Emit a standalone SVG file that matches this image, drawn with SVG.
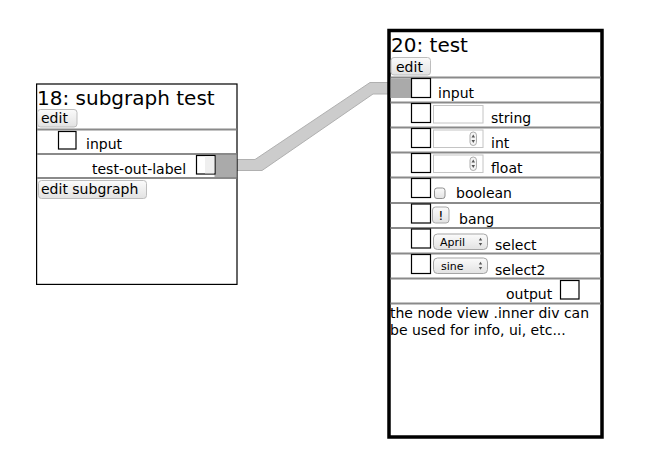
<svg xmlns="http://www.w3.org/2000/svg" width="648" height="468" viewBox="0 0 648 468">
  <defs>
    <linearGradient id="btnGrad" x1="0" y1="0" x2="0" y2="1">
      <stop offset="0" stop-color="#fbfbfb"/>
      <stop offset="1" stop-color="#e2e2e2"/>
    </linearGradient>
    <style>
      text { font-family: "DejaVu Sans", Verdana, sans-serif; fill: #000; }
      .title { font-size: 20px; }
      .lbl { font-size: 14px; }
      .btntxt { font-size: 14px; }
      .small { font-size: 11px; }
      .node18 { fill: #fff; stroke: #000; stroke-width: 1.2; }
      .node20 { fill: #fff; stroke: #000; stroke-width: 3.5; }
      .rowline { stroke: #8a8a8a; stroke-width: 2; }
      .port { fill: #fff; stroke: #000; stroke-width: 1.2; }
      .portActive { fill: #aaa; }
      .btn { fill: url(#btnGrad); stroke: #bdbdbd; stroke-width: 1; }
      .field { fill: #fff; stroke: #c4c4c4; stroke-width: 1; }
      .spin { fill: #f4f4f4; stroke: #9a9a9a; stroke-width: 0.8; }
      .arrow { fill: #555; }
      .wire { fill: #cccccc; stroke: #b0b0b0; stroke-width: 1; }
    </style>
  </defs>

  <rect x="0" y="0" width="648" height="468" fill="#fff"/>

  <g id="connectors">
    <polygon class="wire" points="237,159.5 255,159.5 370,82.5 389,82.5 389,94 373,94 262,170.5 237,170.5"/>
  </g>

  <g id="node-18">
    <rect class="node18" x="36.6" y="84" width="200.4" height="200.4"/>
    <text class="title" x="37" y="105">18: subgraph test</text>
    <rect class="btn" x="37.5" y="109.5" width="39.5" height="17.5" rx="3"/>
    <text class="btntxt" x="41" y="123">edit</text>
    <line class="rowline" x1="37" y1="129.5" x2="236.5" y2="129.5"/>
    <line class="rowline" x1="37" y1="154" x2="236.5" y2="154"/>
    <line class="rowline" x1="37" y1="178" x2="236.5" y2="178"/>
    <g id="node-18-input">
      <rect class="port" x="58.5" y="131.5" width="17.5" height="17.5"/>
      <text class="lbl" x="86" y="149">input</text>
    </g>
    <g id="node-18-output">
      <rect class="portActive" x="214.5" y="155" width="22" height="22"/>
      <rect class="port" x="196.5" y="155.5" width="18.5" height="18.5"/>
      <rect x="205" y="156.2" width="9.4" height="17.2" fill="#efefef"/>
      <text class="lbl" x="92" y="173.5">test-out-label</text>
    </g>
    <rect class="btn" x="38.5" y="180.5" width="108" height="18" rx="3"/>
    <text class="btntxt" x="41" y="194">edit subgraph</text>
  </g>

  <g id="node-20">
    <rect class="node20" x="389" y="30.5" width="213" height="406.5"/>
    <text class="title" x="391" y="52">20: test</text>
    <rect class="btn" x="391" y="57.5" width="39.5" height="17.5" rx="3"/>
    <text class="btntxt" x="396" y="71.5">edit</text>

    <g id="row-lines">
      <line class="rowline" x1="390.5" y1="77.5" x2="600.5" y2="77.5"/>
      <line class="rowline" x1="390.5" y1="102.5" x2="600.5" y2="102.5"/>
      <line class="rowline" x1="390.5" y1="127.5" x2="600.5" y2="127.5"/>
      <line class="rowline" x1="390.5" y1="152.5" x2="600.5" y2="152.5"/>
      <line class="rowline" x1="390.5" y1="177.5" x2="600.5" y2="177.5"/>
      <line class="rowline" x1="390.5" y1="203" x2="600.5" y2="203"/>
      <line class="rowline" x1="390.5" y1="228" x2="600.5" y2="228"/>
      <line class="rowline" x1="390.5" y1="253.5" x2="600.5" y2="253.5"/>
      <line class="rowline" x1="390.5" y1="278.5" x2="600.5" y2="278.5"/>
      <line class="rowline" x1="390.5" y1="303.5" x2="600.5" y2="303.5"/>
    </g>

    <g id="node-20-input">
      <rect class="portActive" x="390.5" y="78.5" width="21" height="19.5"/>
      <rect class="port" x="411.5" y="78.5" width="19" height="19"/>
      <text class="lbl" x="438" y="98.3">input</text>
    </g>

    <g id="node-20-string">
      <rect class="port" x="411.5" y="103.5" width="19" height="19"/>
      <rect class="field" x="433.5" y="105.5" width="49.5" height="17.5"/>
      <text class="lbl" x="491" y="122.5">string</text>
    </g>

    <g id="node-20-int">
      <rect class="port" x="411.5" y="128.5" width="19" height="19"/>
      <rect class="field" x="433.5" y="130" width="49.5" height="17.5"/>
      <rect class="spin" x="470" y="132" width="6.5" height="13.5" rx="3.2"/>
      <path class="arrow" d="M471.5,137.5 L475,137.5 L473.25,134.5 Z M471.5,140 L475,140 L473.25,143 Z"/>
      <text class="lbl" x="491" y="147.5">int</text>
    </g>

    <g id="node-20-float">
      <rect class="port" x="411.5" y="153.5" width="19" height="19"/>
      <rect class="field" x="433.5" y="155" width="49.5" height="17.5"/>
      <rect class="spin" x="470" y="157" width="6.5" height="13.5" rx="3.2"/>
      <path class="arrow" d="M471.5,162.5 L475,162.5 L473.25,159.5 Z M471.5,165 L475,165 L473.25,168 Z"/>
      <text class="lbl" x="491" y="172.5">float</text>
    </g>

    <g id="node-20-boolean">
      <rect class="port" x="411.5" y="178.5" width="19" height="19"/>
      <rect class="btn" x="434.5" y="188" width="10.5" height="10.5" rx="2.5" style="stroke:#8f8f8f"/>
      <text class="lbl" x="456" y="197.5">boolean</text>
    </g>

    <g id="node-20-bang">
      <rect class="port" x="411.5" y="204" width="19" height="19"/>
      <rect class="btn" x="432.5" y="207" width="16.5" height="16" rx="3" style="stroke:#a8a8a8"/>
      <text class="lbl" x="438.3" y="219.5" style="font-size:13px">!</text>
      <text class="lbl" x="459" y="224">bang</text>
    </g>

    <g id="node-20-select">
      <rect class="port" x="411.5" y="229" width="19" height="19"/>
      <rect class="btn" x="433.5" y="234" width="54" height="15.5" rx="4" style="stroke:#a5a5a5"/>
      <text class="small" x="440" y="245.5">April</text>
      <path class="arrow" d="M478.8,240.5 L482.2,240.5 L480.5,237.8 Z M478.8,243 L482.2,243 L480.5,245.7 Z"/>
      <text class="lbl" x="495" y="249.5">select</text>
    </g>

    <g id="node-20-select2">
      <rect class="port" x="411.5" y="254.5" width="19" height="19"/>
      <rect class="btn" x="433.5" y="258" width="54" height="15.5" rx="4" style="stroke:#a5a5a5"/>
      <text class="small" x="441" y="269.5">sine</text>
      <path class="arrow" d="M478.8,264.5 L482.2,264.5 L480.5,261.8 Z M478.8,267 L482.2,267 L480.5,269.7 Z"/>
      <text class="lbl" x="495" y="274.5">select2</text>
    </g>

    <g id="node-20-output">
      <rect class="port" x="560.5" y="280.5" width="18.5" height="18.5"/>
      <text class="lbl" x="506" y="299.3">output</text>
    </g>

    <text class="lbl" x="390" y="317.5">the node view .inner div can</text>
    <text class="lbl" x="390" y="335">be used for info, ui, etc...</text>
  </g>
</svg>
